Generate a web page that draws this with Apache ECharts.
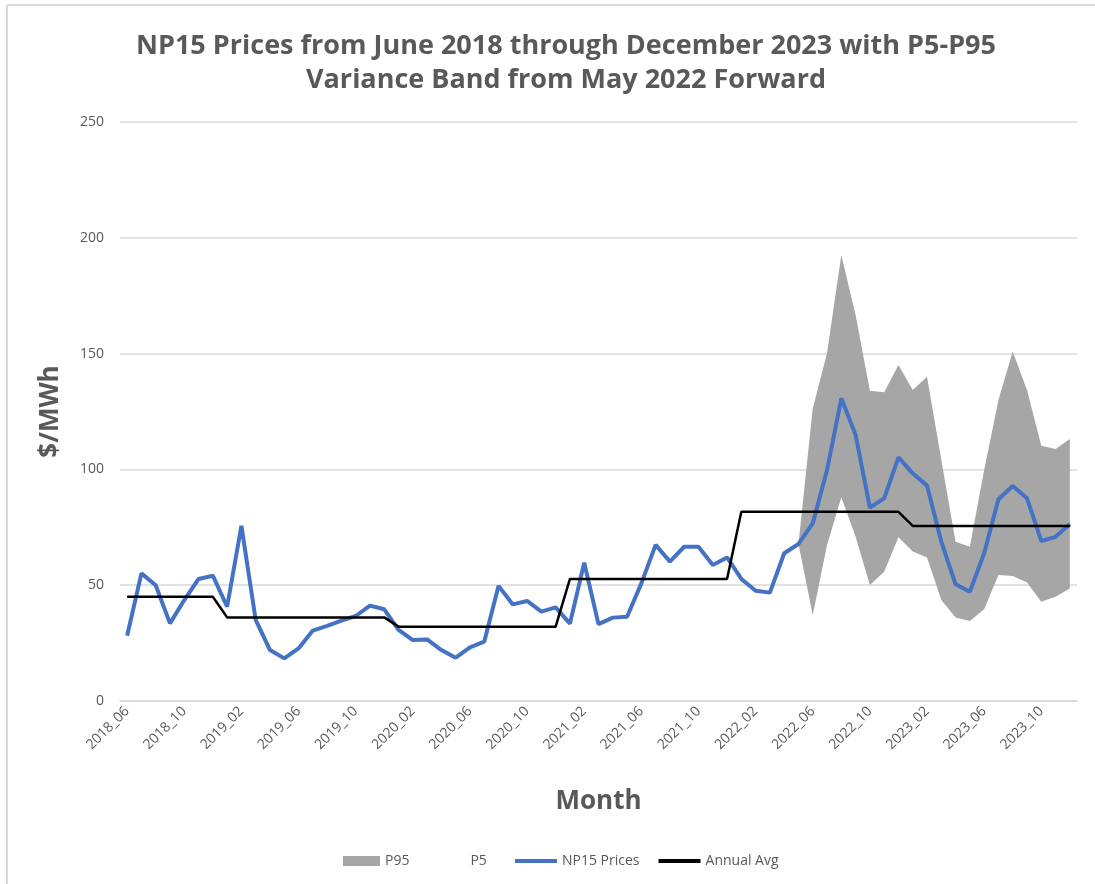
<!DOCTYPE html>
<html>
<head>
<meta charset="utf-8">
<script src="https://cdn.jsdelivr.net/npm/echarts@6/dist/echarts.min.js"></script>
<style>html,body{margin:0;padding:0;background:#fff;}#c{width:1095px;height:884px;}</style>
</head>
<body>
<div id="c"></div>
<script>
var months = ["2018_06","2018_07","2018_08","2018_09","2018_10","2018_11","2018_12",
"2019_01","2019_02","2019_03","2019_04","2019_05","2019_06","2019_07","2019_08","2019_09","2019_10","2019_11","2019_12",
"2020_01","2020_02","2020_03","2020_04","2020_05","2020_06","2020_07","2020_08","2020_09","2020_10","2020_11","2020_12",
"2021_01","2021_02","2021_03","2021_04","2021_05","2021_06","2021_07","2021_08","2021_09","2021_10","2021_11","2021_12",
"2022_01","2022_02","2022_03","2022_04","2022_05","2022_06","2022_07","2022_08","2022_09","2022_10","2022_11","2022_12",
"2023_01","2023_02","2023_03","2023_04","2023_05","2023_06","2023_07","2023_08","2023_09","2023_10","2023_11","2023_12"];

var np15Prices = [28.2, 55.1, 50, 33.5, 43.6, 52.7, 54.1, 40.7, 75.6, 35,
  22, 18.4, 22.7, 30.4, 32.4, 34.7, 36.7, 41.2, 39.6, 30.7,
  26.3, 26.6, 22, 18.7, 23.2, 25.6, 49.7, 41.7, 43.2, 38.6,
  40.4, 33.4, 59.7, 33.2, 36, 36.4, 50.8, 67.4, 60.2, 66.6,
  66.6, 58.7, 62, 52.7, 47.6, 46.8, 63.8, 67.8, 76.7, 99.7,
  130.7, 114.9, 83.5, 87.5, 105.2, 98.3, 93, 68.8, 50.4, 47.2,
  63.8, 87.1, 92.8, 87.5, 69.1, 70.9, 76.4];

var annualAvg = [45, 45, 45, 45, 45, 45, 45,
  36.1, 36.1, 36.1, 36.1, 36.1, 36.1, 36.1, 36.1, 36.1, 36.1, 36.1, 36.1,
  32.1, 32.1, 32.1, 32.1, 32.1, 32.1, 32.1, 32.1, 32.1, 32.1, 32.1, 32.1,
  52.7, 52.7, 52.7, 52.7, 52.7, 52.7, 52.7, 52.7, 52.7, 52.7, 52.7, 52.7,
  81.7, 81.7, 81.7, 81.7, 81.7, 81.7, 81.7, 81.7, 81.7, 81.7, 81.7, 81.7,
  75.6, 75.6, 75.6, 75.6, 75.6, 75.6, 75.6, 75.6, 75.6, 75.6, 75.6, 75.6];

// band from 2022_05 forward
var bandStart = "2022_05";
var p95 = [67.8, 126.3, 150.1, 192.6, 166.7, 134, 133.3, 145.1, 134.3, 140,
  104.1, 68.8, 66.6, 99.7, 130, 150.8, 134.3, 110.2, 108.8, 113.1];
var p5 = [67.8, 37.1, 67.4, 88, 70.9, 50.1, 55.8, 70.7, 64.5, 62,
  43.6, 36, 34.5, 39.6, 54.4, 54, 51.2, 42.9, 45, 48.6];

var yTicks = [0, 50, 100, 150, 200, 250];

var startIdx = months.indexOf(bandStart);
var p5Full = [], bandDiff = [];
for (var i = 0; i < months.length; i++) {
  var k = i - startIdx;
  if (k >= 0 && k < p5.length) {
    p5Full.push(p5[k]);
    bandDiff.push(+(p95[k] - p5[k]).toFixed(2));
  } else {
    p5Full.push('-');
    bandDiff.push('-');
  }
}

var FONT = "'Open Sans', 'Noto Sans', sans-serif";
var GRAY = '#595959';

var chart = echarts.init(document.getElementById('c'), null, {renderer: 'canvas'});
chart.setOption({
  animation: false,
  backgroundColor: '#ffffff',
  title: {
    text: 'NP15 Prices from June 2018 through December 2023 with P5-P95\nVariance Band from May 2022 Forward',
    left: 561,
    top: 24,
    textAlign: 'center',
    textStyle: {fontFamily: FONT, fontSize: 27, fontWeight: 'bold', color: GRAY, lineHeight: 34}
  },
  graphic: [
    {type: 'line', shape: {x1: 7, y1: 5, x2: 1095, y2: 5}, style: {stroke: '#d9d9d9', lineWidth: 2}},
    {type: 'line', shape: {x1: 7, y1: 5, x2: 7, y2: 884}, style: {stroke: '#d9d9d9', lineWidth: 2}}
  ],
  legend: [
    {
      left: 338,
      top: 849,
      itemWidth: 37,
      itemHeight: 10,
      itemGap: 19,
      textStyle: {fontFamily: FONT, fontSize: 14, color: GRAY},
      data: [
        {name: 'P95', icon: 'rect', itemStyle: {color: '#a6a6a6'}},
        {name: 'P5', icon: 'rect', itemStyle: {color: 'rgba(0,0,0,0)', opacity: 0}}
      ]
    },
    {
      left: 510,
      top: 849,
      itemWidth: 42,
      itemHeight: 4,
      itemGap: 19,
      textStyle: {fontFamily: FONT, fontSize: 14, color: GRAY},
      data: [
        {name: 'NP15 Prices', icon: 'rect', itemStyle: {color: '#4472c4'}},
        {name: 'Annual Avg', icon: 'rect', itemStyle: {color: '#000000'}}
      ]
    }
  ],
  grid: {left: 120, right: 18, top: 122, bottom: 183, containLabel: false},
  xAxis: {
    type: 'category',
    data: months,
    boundaryGap: true,
    name: 'Month',
    nameLocation: 'middle',
    nameGap: 88,
    nameTextStyle: {fontFamily: FONT, fontSize: 26, fontWeight: 'bold', color: GRAY},
    axisLine: {show: true, lineStyle: {color: '#d9d9d9', width: 1.5}},
    axisTick: {show: false},
    axisLabel: {interval: 3, rotate: 45, fontFamily: FONT, fontSize: 14, color: GRAY, margin: 8}
  },
  yAxis: {
    type: 'value',
    min: yTicks[0],
    max: yTicks[yTicks.length - 1],
    interval: 50,
    name: '$/MWh',
    nameLocation: 'middle',
    nameGap: 56,
    nameTextStyle: {fontFamily: FONT, fontSize: 26, fontWeight: 'bold', color: GRAY},
    axisLine: {show: false},
    axisTick: {show: false},
    axisLabel: {fontFamily: FONT, fontSize: 14, color: GRAY, margin: 16},
    splitLine: {lineStyle: {color: '#d9d9d9', width: 1.5}}
  },
  series: [
    {
      name: 'P5', type: 'line', stack: 'band', data: p5Full, symbol: 'none',
      lineStyle: {width: 0, opacity: 0}, itemStyle: {color: 'rgba(0,0,0,0)'}, z: 1
    },
    {
      name: 'P95', type: 'line', stack: 'band', data: bandDiff, symbol: 'none',
      lineStyle: {width: 0, opacity: 0}, itemStyle: {color: '#a6a6a6'},
      areaStyle: {color: '#a6a6a6', opacity: 1}, z: 1
    },
    {
      name: 'NP15 Prices', type: 'line', data: np15Prices, symbol: 'none',
      lineStyle: {color: '#4472c4', width: 4}, itemStyle: {color: '#4472c4'}, z: 3
    },
    {
      name: 'Annual Avg', type: 'line', data: annualAvg, symbol: 'none',
      lineStyle: {color: '#000000', width: 2.5}, itemStyle: {color: '#000000'}, z: 4
    }
  ]
});
</script>
</body>
</html>
